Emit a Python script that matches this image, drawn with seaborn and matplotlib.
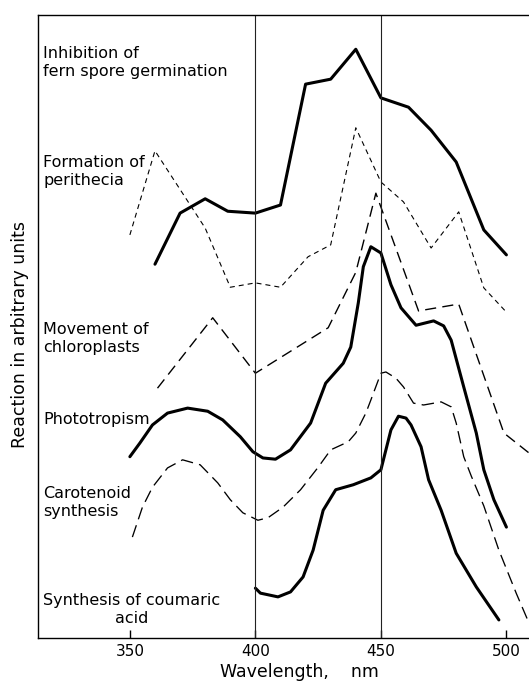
import matplotlib
matplotlib.use("Agg")
import matplotlib.pyplot as plt
import seaborn as sns
import pandas as pd

sns.set_theme(style="white")
plt.rcParams['font.family'] = ['DejaVu Sans']
plt.rcParams['lines.scale_dashes'] = False

# ---- data (wavelength nm, reaction in arbitrary units) ----
fern_nm = [360, 370, 380, 389, 400, 410, 420, 430, 440, 450, 461, 470, 480, 491, 500]
fern_val = [60.0, 68.2, 70.5, 68.5, 68.2, 69.5, 88.9, 89.7, 94.5, 86.7, 85.2, 81.5, 76.4, 65.5, 61.5]

peri_nm = [350, 360, 380, 390, 400, 410, 421, 430, 440, 450, 459, 470, 481, 491, 500]
peri_val = [64.7, 78.2, 65.8, 56.3, 57.0, 56.3, 61.2, 63.1, 81.9, 73.2, 70.0, 62.6, 68.4, 56.2, 52.3]

chloro_nm = [361, 383, 400, 429, 440, 448, 465, 481, 499, 509]
chloro_val = [40.1, 51.4, 42.5, 49.8, 58.7, 71.4, 52.5, 53.6, 32.9, 29.7]

photo_nm = [350, 354, 359, 365, 373, 381, 387, 394, 399, 403, 408, 414, 422, 428, 435, 438,
            441, 443, 446, 450, 454, 458, 464, 471, 475, 478, 483, 488, 491, 495, 500]
photo_val = [29.1, 31.3, 34.2, 36.1, 36.9, 36.4, 35.0, 32.3, 29.9, 28.9, 28.7, 30.2, 34.5, 40.9,
             44.1, 46.7, 53.8, 59.6, 62.8, 61.8, 56.7, 53.0, 50.2, 50.9, 50.1, 47.8, 40.3, 32.9,
             27.0, 22.2, 17.8]

carot_nm = [351, 355, 359, 365, 371, 378, 385, 390, 395, 401, 405, 411, 418, 425, 430, 437,
            440, 444, 446, 450, 452, 456, 459, 463, 467, 474, 478, 480, 483, 486, 491, 497,
            504, 509]
carot_val = [16.2, 21.0, 24.2, 27.3, 28.6, 27.8, 24.9, 22.2, 20.1, 18.9, 19.3, 21.0, 23.8, 27.4,
             30.2, 31.5, 32.9, 36.1, 38.2, 42.5, 42.7, 41.7, 40.3, 37.7, 37.4, 37.9, 37.1, 34.5,
             29.1, 26.0, 21.2, 14.1, 7.1, 2.4]

couma_nm = [400, 402, 409, 414, 419, 423, 427, 432, 439, 446, 450, 452, 454, 457, 460, 462,
            466, 469, 474, 480, 488, 497]
couma_val = [8.0, 7.2, 6.6, 7.4, 9.8, 14.1, 20.5, 23.8, 24.6, 25.7, 27.0, 30.2, 33.4, 35.6,
             35.3, 34.2, 30.7, 25.4, 20.5, 13.6, 8.2, 2.9]

labels = ["Inhibition of\nfern spore germination", "Formation of\nperithecia",
          "Movement of\nchloroplasts", "Phototropism", "Carotenoid\nsynthesis",
          "Synthesis of coumaric\nacid"]
label_y = [92.3, 74.8, 48.0, 35.0, 21.8, 4.5]
xticks = [350, 400, 450, 500]
guides = [400, 450]

W, H = 529, 687
fig = plt.figure(figsize=(W / 100, H / 100), dpi=100)
ax = fig.add_axes([38 / W, (H - 638) / H, (529 - 38) / W, (638 - 15) / H])

series = [
    (fern_nm, fern_val, 2.2, None),
    (peri_nm, peri_val, 0.8, (3.6, 2.9)),
    (chloro_nm, chloro_val, 1.0, (8.0, 4.5)),
    (photo_nm, photo_val, 2.2, None),
    (carot_nm, carot_val, 0.95, (9.0, 4.5)),
    (couma_nm, couma_val, 2.2, None),
]
for xs, ys, lw, dash in series:
    df = pd.DataFrame({"nm": xs, "val": ys})
    sns.lineplot(data=df, x="nm", y="val", ax=ax, color="black", linewidth=lw,
                 estimator=None, sort=False)
    line = ax.lines[-1]
    line.set_solid_joinstyle("round")
    if dash is not None:
        line.set_dashes(dash)

for g in guides:
    ax.axvline(g, color="#222222", linewidth=0.8)

ax.set_xlim(313.4, 509.0)
ax.set_ylim(0, 100)
ax.set_xticks(xticks)
ax.set_xticklabels([str(t) for t in xticks], fontsize=11)
ax.set_yticks([])
ax.tick_params(axis="x", direction="in", length=6, width=1, color="black", pad=4,
               bottom=True, labelcolor="black")
for s in ["left", "bottom", "top"]:
    ax.spines[s].set_color("black")
    ax.spines[s].set_linewidth(1.0)
ax.spines["right"].set_visible(False)
ax.set_xlabel("")
ax.set_ylabel("")

fig.text(20 / W, 1 - 335 / H, "Reaction in arbitrary units", fontsize=12.5, rotation=90,
         ha="center", va="center", color="black")

for txt, y in zip(labels, label_y):
    ha_al = "center" if txt.startswith("Synthesis") else "left"
    ax.text(315.5, y, txt, fontsize=11.5, va="center", ha="left", multialignment=ha_al,
            color="black", linespacing=1.25)

fig.text(299 / W, 1 - 672 / H, "Wavelength,    nm", fontsize=12.5, ha="center", va="center",
         color="black")

fig.savefig("out.png", dpi=100)
